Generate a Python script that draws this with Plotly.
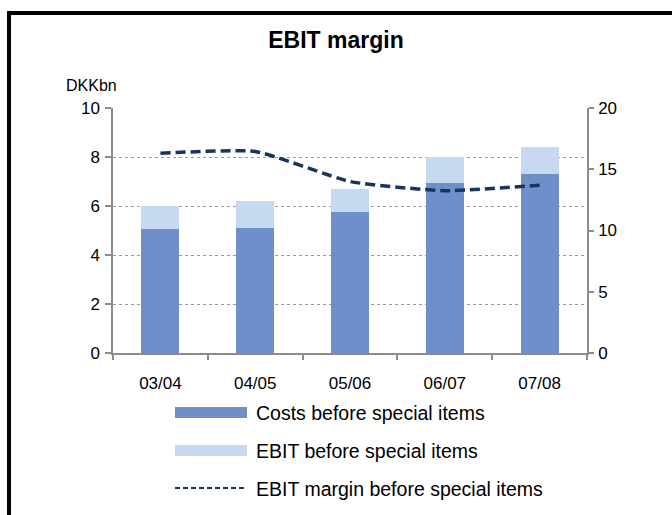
import plotly.graph_objects as go

categories = ["03/04", "04/05", "05/06", "06/07", "07/08"]
costs = [5.05, 5.1, 5.75, 6.95, 7.3]
ebit = [0.95, 1.1, 0.95, 1.05, 1.1]
margin = [16.3, 16.45, 14.0, 13.25, 13.7]
legend_labels = ["Costs before special items", "EBIT before special items",
                 "EBIT margin before special items"]

W, H = 672, 515
L, R, T, B = 113, 587, 108, 353


def px(x):
    return (x - L) / (R - L)


def py(y):
    return (B - y) / (B - T)


C_COST = "#6E8FC9"
C_EBIT = "#C6D9F1"
C_LINE = "#17365D"
AX = "#8C8C8C"
FONT = "Liberation Sans, Arial, sans-serif"
TF = 17

fig = go.Figure()
fig.add_trace(go.Bar(x=categories, y=costs, marker=dict(color=C_COST, line=dict(width=0)),
                     width=0.4, name=legend_labels[0], showlegend=False))
fig.add_trace(go.Bar(x=categories, y=ebit, marker=dict(color=C_EBIT, line=dict(width=0)),
                     width=0.4, name=legend_labels[1], showlegend=False))
fig.add_trace(go.Scatter(x=categories, y=margin, yaxis="y2", mode="lines",
                         line=dict(color=C_LINE, width=3.5, dash="10px,5px", shape="spline",
                                   smoothing=0.5),
                         name=legend_labels[2], showlegend=False))

shapes = [
    dict(type="rect", xref="paper", yref="paper", x0=px(9), x1=px(720), y0=py(13), y1=py(560),
         line=dict(color="black", width=4), fillcolor="rgba(0,0,0,0)", layer="below"),
    dict(type="rect", xref="paper", yref="paper", x0=px(175), x1=px(247), y0=py(418), y1=py(407),
         line=dict(width=0), fillcolor=C_COST),
    dict(type="rect", xref="paper", yref="paper", x0=px(175), x1=px(247), y0=py(456), y1=py(445),
         line=dict(width=0), fillcolor=C_EBIT),
    dict(type="line", xref="paper", yref="paper", x0=px(175), x1=px(247), y0=py(488), y1=py(488),
         line=dict(color=C_LINE, width=2, dash="5px,3px")),
]

annotations = [
    dict(text="DKKbn", xref="paper", yref="paper", x=px(119), y=py(85), xanchor="right",
         yanchor="middle", showarrow=False, font=dict(size=16, color="black", family=FONT)),
]
for i, (lab, yy) in enumerate(zip(legend_labels, [413, 451, 489])):
    annotations.append(dict(text=lab, xref="paper", yref="paper", x=px(254), y=py(yy),
                            xanchor="left", yanchor="middle", showarrow=False,
                            font=dict(size=19.5, color="black", family=FONT)))

fig.update_layout(
    width=W, height=H,
    margin=dict(l=L, r=W - R, t=T, b=H - B),
    paper_bgcolor="white", plot_bgcolor="white",
    barmode="stack",
    font=dict(family=FONT, size=TF, color="black"),
    title=dict(text="<b>EBIT margin</b>", x=0.5, xref="container", y=1 - 40 / H, yanchor="middle",
               xanchor="center", font=dict(size=23, color="black", family=FONT)),
    xaxis=dict(showline=True, linecolor=AX, linewidth=1.5, ticks="outside", ticklen=5,
               tickcolor=AX, tickwidth=1.5, tickson="boundaries", showgrid=False,
               tickfont=dict(size=TF), range=[-0.5, 4.5], ticklabelstandoff=14),
    yaxis=dict(range=[0, 10], dtick=2, showline=True, linecolor=AX, linewidth=1.5,
               ticks="outside", ticklen=6, tickcolor=AX, tickwidth=1.5, showgrid=True,
               gridcolor="#9A9A9A", griddash="dot", gridwidth=1.2, zeroline=False,
               tickfont=dict(size=TF), ticklabelstandoff=2),
    yaxis2=dict(range=[0, 20], dtick=5, overlaying="y", side="right", showline=True,
                linecolor=AX, linewidth=1.5, ticks="outside", ticklen=5, tickcolor=AX,
                tickwidth=1.5, showgrid=False, zeroline=False, tickfont=dict(size=TF),
                ticklabelstandoff=1),
    shapes=shapes,
    annotations=annotations,
    showlegend=False,
)

fig.write_html("out.html")
